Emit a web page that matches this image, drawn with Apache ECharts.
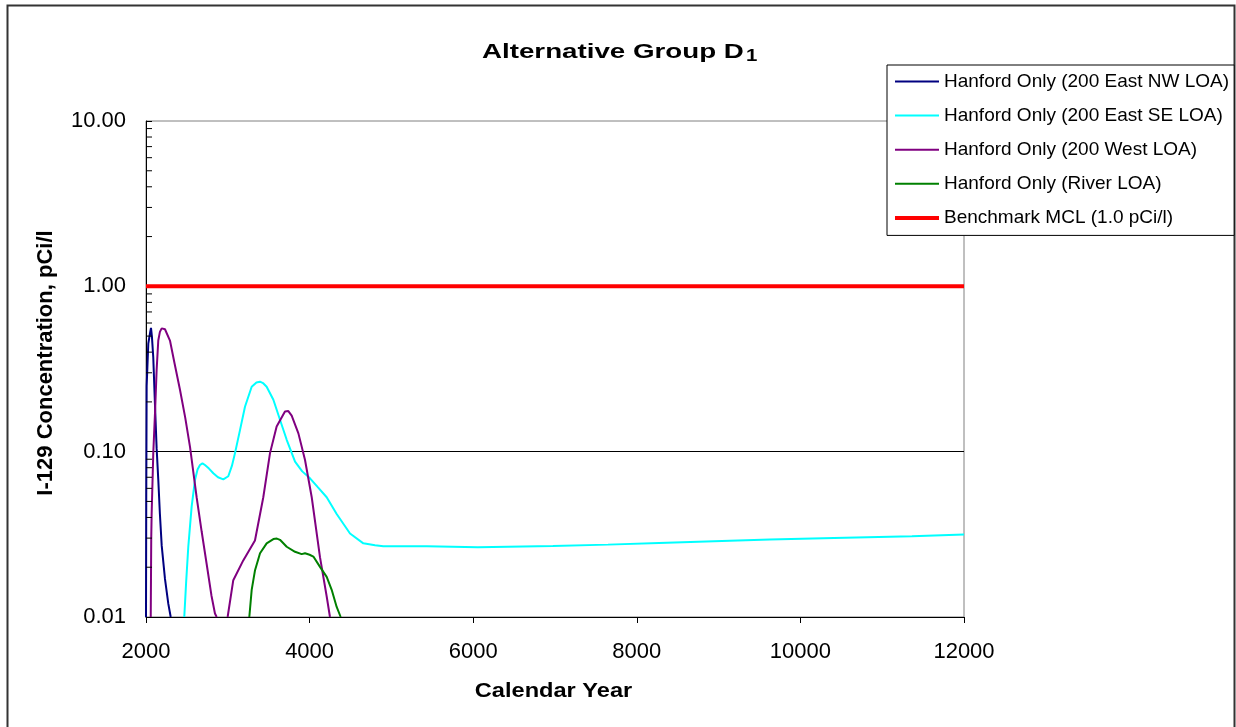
<!DOCTYPE html>
<html>
<head>
<meta charset="utf-8">
<script src="https://cdn.jsdelivr.net/npm/echarts@6/dist/echarts.min.js"></script>
<style>
html,body{margin:0;padding:0;background:#fff;}
#chart{width:1236px;height:727px;}
</style>
</head>
<body>
<div id="chart"></div>
<script>
// ---- data ----
const titleMain = 'Alternative Group D';
const titleSub = '1';
const xAxisTitle = 'Calendar Year';
const yAxisTitle = 'I-129 Concentration, pCi/l';

const seriesNames = [
  'Hanford Only (200 East NW LOA)',
  'Hanford Only (200 East SE LOA)',
  'Hanford Only (200 West LOA)',
  'Hanford Only (River LOA)',
  'Benchmark MCL (1.0 pCi/l)'
];

const nwYears = [2000, 2003, 2008, 2028, 2049, 2061, 2072, 2089, 2110, 2130, 2150, 2170, 2192, 2232, 2273, 2302];
const nwValues = [0.01, 0.05, 0.25, 0.45, 0.52, 0.56, 0.50, 0.37, 0.19, 0.105, 0.068, 0.042, 0.027, 0.017, 0.012, 0.01];

const seYears = [2468, 2490, 2517, 2558, 2599, 2630, 2660, 2690, 2721, 2770, 2823, 2880, 2945, 3006, 3050, 3088, 3149, 3210, 3292, 3350, 3394, 3430, 3475, 3557, 3638, 3720, 3822, 3910, 4005, 4100, 4209, 4331, 4494, 4657, 4800, 4901,
  5434, 5434, 6057, 6057, 6974, 6974, 7647, 7647, 8271, 8271, 8943, 8943, 9628, 9628, 10411, 10411, 11364, 11364, 12000];
const seValues = [0.01, 0.016, 0.0266, 0.0465, 0.0675, 0.078, 0.083, 0.085, 0.083, 0.079, 0.074, 0.070, 0.068, 0.071, 0.082, 0.098, 0.135, 0.187, 0.247, 0.262, 0.265, 0.26, 0.247, 0.206, 0.156, 0.118, 0.087, 0.076, 0.069, 0.061, 0.053, 0.042, 0.032, 0.0279, 0.0272, 0.0268,
  0.0268, 0.0264, 0.0264, 0.0269, 0.0269, 0.0274, 0.0274, 0.0280, 0.0280, 0.0287, 0.0287, 0.0294, 0.0294, 0.0301, 0.0301, 0.0308, 0.0308, 0.0316, 0.0316];

const westYears = [2058, 2064, 2069, 2089, 2110, 2130, 2150, 2170, 2192, 2232, 2293, 2350, 2416, 2480, 2538, 2619, 2680, 2741, 2800, 2843, 2864,
  2930,
  2998, 3067, 3189, 3332, 3434, 3516, 3597, 3699, 3740, 3781, 3863, 3944, 4026, 4127, 4209, 4249];
const westValues = [0.01, 0.03, 0.042, 0.098, 0.171, 0.312, 0.47, 0.53, 0.557, 0.55, 0.47, 0.34, 0.236, 0.16, 0.107, 0.053, 0.033, 0.021, 0.0135, 0.0105, 0.01,
  null,
  0.01, 0.0167, 0.022, 0.029, 0.053, 0.098, 0.142, 0.175, 0.176, 0.165, 0.129, 0.089, 0.053, 0.023, 0.0133, 0.01];

const riverYears = [3263, 3292, 3333, 3394, 3475, 3557, 3600, 3638, 3720, 3822, 3903, 3944, 4000, 4046, 4127, 4209, 4270, 4331, 4380];
const riverValues = [0.01, 0.0146, 0.0192, 0.0243, 0.0279, 0.0296, 0.0298, 0.0293, 0.0266, 0.0248, 0.024, 0.0243, 0.0238, 0.0232, 0.0201, 0.0175, 0.0146, 0.0115, 0.01];

const mclYears = [2000, 12000];
const mclValues = [1.0, 1.0];

const xMin = 2000, xMax = 12000, xInterval = 2000;
const yMin = 0.01, yMax = 10;
const minorTickValues = [0.02,0.03,0.04,0.05,0.06,0.07,0.08,0.09,0.2,0.3,0.4,0.5,0.6,0.7,0.8,0.9,2,3,4,5,6,7,8,9];

// ---- chart ----
const pairs = (xs, ys) => xs.map((x, i) => [x, ys[i]]);
const FONTFAM = '"Liberation Sans", Arial, sans-serif';
const colors = ['#000080', '#00FFFF', '#800080', '#008000', '#FF0000'];
const widths = [2, 2, 2, 2, 4];

const chart = echarts.init(document.getElementById('chart'));

function lineSeries(i, xs, ys) {
  return {
    name: seriesNames[i], type: 'line', data: pairs(xs, ys),
    symbol: 'none', showSymbol: false, connectNulls: false,
    lineStyle: { color: colors[i], width: widths[i] },
    itemStyle: { color: colors[i] },
    clip: true, animation: false, z: i === 4 ? 2 : 3
  };
}

const option = {
  animation: false,
  backgroundColor: '#fff',
  textStyle: { fontFamily: FONTFAM },
  legend: {
    orient: 'vertical',
    left: 887, top: 65,
    padding: [7, 5, 8, 6],
    itemWidth: 44, itemHeight: 14, itemGap: 15.1,
    backgroundColor: '#fff',
    borderColor: '#000', borderWidth: 1, borderRadius: 0,
    data: seriesNames.map((n, i) => ({ name: n, lineStyle: { width: widths[i], color: colors[i] } })),
    itemStyle: { opacity: 0 },
    textStyle: { fontFamily: FONTFAM, fontSize: 19, color: '#000', lineHeight: 19 }
  },
  grid: {
    left: 146, right: 272, top: 121, bottom: 110,
    show: true, borderColor: '#808080', borderWidth: 1, backgroundColor: 'transparent'
  },
  xAxis: {
    type: 'value', min: xMin, max: xMax, interval: xInterval,
    axisLine: { show: true, lineStyle: { color: '#000', width: 1 } },
    axisTick: { show: true, inside: false, length: 6, lineStyle: { color: '#000' } },
    axisLabel: { fontFamily: FONTFAM, fontSize: 22, color: '#000', margin: 24,
      formatter: v => String(v) },
    splitLine: { show: false }
  },
  yAxis: {
    type: 'log', logBase: 10, min: yMin, max: yMax,
    name: yAxisTitle, nameLocation: 'middle', nameGap: 89,
    nameTextStyle: { fontFamily: FONTFAM, fontSize: 22, fontWeight: 'bold', color: '#000', padding: [0, 0, 0, 12] },
    axisLine: { show: true, lineStyle: { color: '#000', width: 1 } },
    axisTick: { show: true, inside: true, length: 6, lineStyle: { color: '#000' } },
    axisLabel: { fontFamily: FONTFAM, fontSize: 22, color: '#000', margin: 20,
      formatter: v => Number(v).toFixed(2) },
    splitLine: { show: true, showMinLine: false, showMaxLine: false, lineStyle: { color: '#000', width: 1 } }
  },
  graphic: [
    {
      type: 'rect', silent: true,
      shape: { x: 7.5, y: 5.5, width: 1227, height: 740 },
      style: { fill: 'none', stroke: '#333', lineWidth: 2 }
    },
    {
      type: 'text', silent: true, x: 482, y: 52.5, scaleX: 1.32,
      style: { text: titleMain, fill: '#000', font: 'bold 21px ' + FONTFAM, textAlign: 'left', textVerticalAlign: 'middle' }
    },
    {
      type: 'text', silent: true, x: 746, y: 56, scaleX: 1.2,
      style: { text: titleSub, fill: '#000', font: 'bold 17px ' + FONTFAM, textAlign: 'left', textVerticalAlign: 'middle' }
    },
    {
      type: 'text', silent: true, x: 553.5, y: 691, scaleX: 1.18,
      style: { text: xAxisTitle, fill: '#000', font: 'bold 20px ' + FONTFAM, textAlign: 'center', textVerticalAlign: 'middle' }
    }
  ],
  series: [
    lineSeries(0, nwYears, nwValues),
    lineSeries(1, seYears, seValues),
    lineSeries(2, westYears, westValues),
    lineSeries(3, riverYears, riverValues),
    lineSeries(4, mclYears, mclValues),
    {
      type: 'custom', silent: true, animation: false, z: 4,
      data: minorTickValues.map(v => [xMin, v]),
      renderItem: function (params, api) {
        const p = api.coord([api.value(0), api.value(1)]);
        return { type: 'line', shape: { x1: p[0], y1: p[1], x2: p[0] + 6, y2: p[1] },
                 style: { stroke: '#000', lineWidth: 1 } };
      }
    }
  ]
};
chart.setOption(option);
</script>
</body>
</html>
